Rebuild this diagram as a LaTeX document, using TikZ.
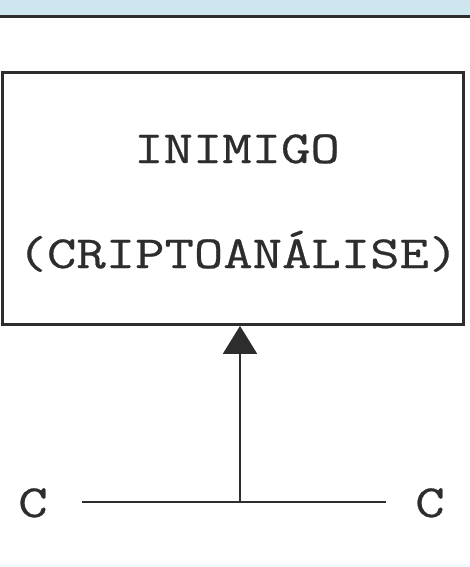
\documentclass[tikz,border=0pt]{standalone}
\usepackage{fontspec}
\newfontfamily\courfont[FakeStretch=1.24,FakeBold=0.6]{Latin Modern Mono}
\usetikzlibrary{arrows.meta}
\definecolor{topblue}{RGB}{205,230,240}
\definecolor{ink}{RGB}{45,45,45}
\begin{document}
\begin{tikzpicture}[x=1pt,y=-1pt,
  lbl/.style={font=\courfont\fontsize{46}{50}\selectfont, text=ink, inner sep=0pt, anchor=base},
  frame/.style={draw=ink, line width=2.6pt},
  wire/.style={draw=ink, line width=2pt}]
\useasboundingbox (0,0) rectangle (470,567);
\fill[white] (0,0) rectangle (470,567);
\fill[topblue] (0,0) rectangle (470,15);
\fill[topblue!25] (0,564) rectangle (470,567);
\draw[frame, line width=3pt] (0,16.5) -- (470,16.5);
\node[frame, minimum width=461pt, minimum height=252pt, inner sep=0pt, anchor=north west] (box) at (1.3,71.3) {};
\node[lbl] (t1) at (237,163) {INIMIGO};
\node[lbl] (t2) at (238,268) {(CRIPTOANÁLISE)};
\node[lbl] (cl) at (33,517) {C};
\node[lbl] (cr) at (430,517) {C};
\coordinate (ll) at (82,502);
\coordinate (lr) at (386,502);
\coordinate (j) at (240,502);
\draw[wire] (ll) -- (lr);
\draw[wire, -{Triangle[length=28pt,width=34pt]}] (j) -- (j |- box.south);
\end{tikzpicture}
\end{document}
